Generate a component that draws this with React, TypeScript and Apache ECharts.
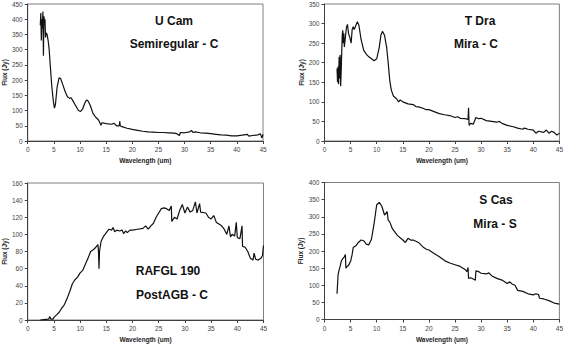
import React, { useEffect, useRef } from "react";
import * as echarts from "echarts";

// Wavelength (um) / Flux (Jy) pairs
const uCamX = [2.4, 2.5, 2.6, 2.7, 2.8, 2.9, 3.0, 3.1, 3.2, 3.3, 3.4, 3.5, 3.7, 3.9, 4.1, 4.3, 4.6, 4.9, 5.1, 5.3, 5.6, 6.0, 6.3, 6.7, 7.2, 7.6, 8.0, 8.3, 8.7, 9.2, 9.7, 10.1, 10.5, 11.0, 11.3, 11.6, 12.0, 12.5, 13.0, 13.5, 13.8, 14.0, 14.2, 15, 16, 16.5, 17, 17.5, 17.6, 17.7, 18, 19, 20, 21, 22, 23, 24, 25, 26, 27, 28, 28.5, 29, 29.2, 30, 31, 31.3, 31.6, 32, 33, 34, 35, 36, 37, 38, 39, 40, 41, 42, 42.3, 43, 44, 44.5, 44.8, 45];
const uCamY = [380, 420, 330, 400, 370, 425, 280, 410, 390, 400, 340, 355, 350, 330, 300, 250, 180, 130, 108, 120, 175, 208, 205, 185, 160, 145, 140, 142, 130, 115, 100, 97, 105, 128, 135, 130, 115, 90, 78, 70, 60, 52, 60, 57, 55, 58, 50, 50, 65, 50, 47, 42, 38, 35, 32, 30, 29, 28, 28, 27, 26, 24, 18, 28, 27, 30, 35, 28, 30, 27, 26, 24, 22, 20, 19, 17, 17, 19, 22, 16, 18, 20, 24, 10, 22];

const tDraX = [2.4, 2.5, 2.6, 2.7, 2.8, 2.9, 3.0, 3.1, 3.2, 3.4, 3.5, 3.6, 3.7, 3.8, 4.0, 4.2, 4.4, 4.6, 4.9, 5.1, 5.3, 5.5, 5.7, 6.0, 6.3, 6.6, 7.0, 7.5, 8, 8.5, 9, 9.5, 10, 10.5, 10.8, 11.1, 11.5, 11.9, 12.2, 12.5, 12.8, 13.2, 13.8, 14.2, 14.5, 15, 16, 17, 17.5, 18, 19, 19.5, 20, 21, 22, 23, 24, 25, 25.5, 26, 27, 27.5, 27.6, 27.7, 28, 28.5, 29, 29.5, 30, 31, 32, 33, 33.5, 34, 35, 36, 37, 38, 38.3, 39, 40, 40.5, 41, 42, 42.5, 43, 43.5, 44, 44.5, 45];
const tDraY = [185, 150, 190, 145, 215, 160, 220, 140, 180, 270, 283, 250, 275, 240, 265, 290, 298, 275, 262, 250, 285, 292, 285, 295, 305, 295, 260, 232, 222, 215, 210, 205, 210, 240, 270, 280, 270, 240, 200, 155, 130, 115, 108, 100, 105, 100, 95, 93, 88, 87, 83, 80, 80, 75, 70, 67, 65, 60, 62, 58, 57, 55, 85, 40, 45, 43, 60, 57, 58, 52, 50, 48, 50, 45, 40, 37, 33, 30, 33, 30, 28, 20, 25, 22, 28, 20, 25, 22, 15, 20];

const rafglX = [2.4, 3, 4, 4.2, 4.4, 4.8, 5, 5.5, 6, 6.5, 7, 7.5, 8, 8.5, 9, 9.5, 10, 10.5, 11, 11.5, 12, 12.5, 13, 13.4, 13.5, 13.6, 13.7, 14, 14.5, 15, 15.5, 16, 16.3, 16.6, 17, 17.5, 18, 18.3, 18.7, 19, 19.5, 20, 21, 22, 22.5, 23, 23.5, 24, 24.5, 25, 25.5, 26, 26.5, 27, 27.4, 27.5, 28, 28.5, 29, 29.5, 30, 30.5, 31, 31.5, 32, 32.3, 32.8, 33, 34, 34.5, 35, 35.5, 36, 36.5, 37, 37.5, 38, 38.4, 38.7, 39, 39.5, 39.8, 40, 40.5, 40.9, 41, 41.5, 42, 42.5, 43, 43.2, 43.5, 44, 44.5, 44.8, 45];
const rafglY = [0, 0.5, 1, 4, 1, 1, 3, 6, 9, 14, 18, 25, 33, 42, 47, 50, 55, 58, 65, 72, 80, 82, 85, 88, 80, 60, 80, 92, 98, 102, 106, 105, 108, 103, 105, 104, 105, 101, 104, 102, 105, 105, 106, 107, 110, 106, 110, 113, 120, 125, 130, 131, 130, 128, 133, 115, 120, 118, 128, 135, 125, 132, 126, 128, 138, 125, 136, 126, 125, 120, 118, 122, 114, 112, 110, 106, 100, 110, 97, 100, 98, 114, 96, 95, 110, 86, 85, 80, 72, 70, 78, 71, 70, 72, 75, 87];

const sCasX = [2.4, 2.6, 2.8, 3, 3.2, 3.5, 3.8, 4.0, 4.1, 4.3, 4.6, 5, 5.3, 5.5, 6, 6.5, 7, 7.5, 8, 8.5, 9, 9.5, 10, 10.5, 11, 11.5, 12, 12.2, 12.5, 13, 14, 15, 15.5, 16, 16.5, 17, 18, 19, 19.5, 20, 21, 22, 23, 24, 25, 26, 27, 27.3, 27.5, 27.6, 28, 28.5, 28.9, 29, 29.5, 30, 31, 31.5, 32, 33, 34, 35, 35.5, 36, 36.5, 37, 38, 39, 40, 40.5, 41, 41.2, 42, 43, 44, 45];
const sCasY = [75, 130, 145, 155, 170, 178, 183, 190, 150, 155, 158, 170, 190, 210, 215, 225, 232, 230, 220, 218, 235, 280, 335, 342, 330, 305, 315, 290, 285, 265, 245, 232, 225, 237, 232, 232, 225, 210, 205, 203, 193, 183, 172, 165, 160, 155, 145, 140, 152, 120, 122, 118, 115, 142, 140, 135, 133, 136, 128, 120, 115, 105, 110, 103, 100, 85, 82, 75, 72, 75, 73, 62, 60, 55, 48, 45];

const xTicks = { min: 0, max: 45, interval: 5 };
const panelNames = ["U Cam", "T Dra", "RAFGL 190", "S Cas"];
const panelTypes = ["Semiregular - C", "Mira - C", "PostAGB - C", "Mira - S"];
const yMax = [450, 350, 160, 400];
const yInterval = [50, 50, 20, 50];

const zip = (xs: number[], ys: number[]) => xs.map((x, i) => [x, ys[i]]);

export default function App() {
  const ref = useRef<HTMLDivElement>(null);
  useEffect(() => {
    if (!ref.current) return;
    const chart = echarts.init(ref.current, undefined, { renderer: "svg" });
    const grids = [
      { left: 26, top: 4, width: 237, height: 137 },
      { left: 324.5, top: 4, width: 236.5, height: 137 },
      { left: 26.5, top: 183, width: 237, height: 137 },
      { left: 324.5, top: 182.5, width: 236.5, height: 137 },
    ];
    const font = "'Liberation Sans', Arial, sans-serif";
    const yNameGap = [18, 18, 18, 21];
    const data = [zip(uCamX, uCamY), zip(tDraX, tDraY), zip(rafglX, rafglY), zip(sCasX, sCasY)];
    const titlePos = [
      [174, 21, 174, 44],
      [480, 21, 476, 44],
      [168, 271, 172, 295],
      [496, 200, 495, 224],
    ];
    chart.setOption({
      animation: false,
      backgroundColor: "#ffffff",
      grid: grids.map((g) => ({ ...g, show: true, borderColor: "#808080", borderWidth: 1, backgroundColor: "transparent" })),
      xAxis: grids.map((_, i) => ({
        type: "value",
        gridIndex: i,
        ...xTicks,
        name: "Wavelength (um)",
        nameLocation: "middle",
        nameGap: 16,
        nameTextStyle: { fontFamily: font, fontSize: 6.5, fontWeight: "bold", color: "#222" },
        axisLine: { lineStyle: { color: "#404040", width: 1 } },
        axisTick: { show: true, length: 3, lineStyle: { color: "#404040" } },
        axisLabel: { fontFamily: font, fontSize: 6.5, color: "#444", margin: 5 },
        splitLine: { show: false },
      })),
      yAxis: grids.map((_, i) => ({
        type: "value",
        gridIndex: i,
        min: 0,
        max: yMax[i],
        interval: yInterval[i],
        name: "Flux (Jy)",
        nameLocation: "middle",
        nameGap: yNameGap[i],
        nameTextStyle: { fontFamily: font, fontSize: 6.5, fontWeight: "bold", color: "#222" },
        axisLine: { show: true, lineStyle: { color: "#404040", width: 1 } },
        axisTick: { show: true, length: 3, lineStyle: { color: "#404040" } },
        axisLabel: { fontFamily: font, fontSize: 6.5, color: "#444", margin: 5 },
        splitLine: { show: false },
      })),
      series: data.map((d, i) => ({
        type: "line",
        xAxisIndex: i,
        yAxisIndex: i,
        data: d,
        showSymbol: false,
        symbol: "none",
        lineStyle: { color: "#111", width: 1.2 },
      })),
      graphic: titlePos.flatMap((p, i) => [
        {
          type: "text",
          x: p[0],
          y: p[1],
          style: { text: panelNames[i], fontFamily: font, fontSize: 12, fontWeight: "bold", fill: "#111", align: "center", verticalAlign: "middle" },
        },
        {
          type: "text",
          x: p[2],
          y: p[3],
          style: { text: panelTypes[i], fontFamily: font, fontSize: 12, fontWeight: "bold", fill: "#111", align: "center", verticalAlign: "middle" },
        },
      ]),
    });
    return () => chart.dispose();
  }, []);
  return <div ref={ref} style={{ position: "fixed", left: 0, top: 0, width: 566, height: 344 }} />;
}
